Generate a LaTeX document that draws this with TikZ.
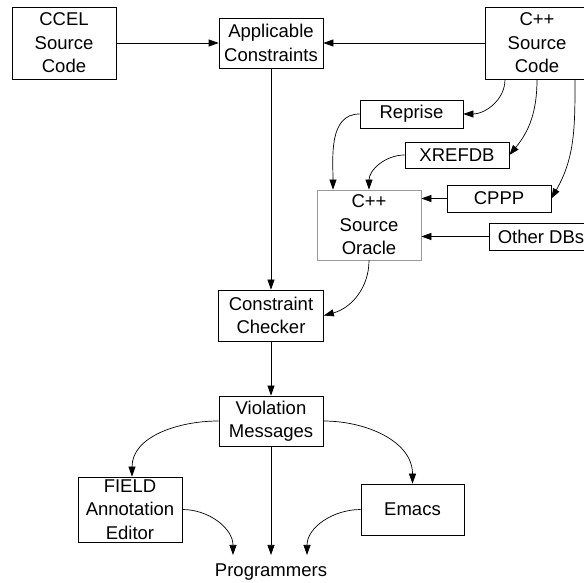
\documentclass[tikz,border=0pt]{standalone}
\usepackage{fontspec}
\setmainfont{Liberation Sans}
\usetikzlibrary{positioning,arrows.meta}

\begin{document}
\begin{tikzpicture}[x=1pt,y=1pt,
box/.style={draw,rectangle,line width=0.7pt,align=center,inner sep=0pt,
    font=\fontsize{18.5}{23.5}\selectfont},
oraclebox/.style={box,draw=black!40},
flow/.style={line width=0.7pt,-{Triangle[length=10pt,width=7pt]}}]
\useasboundingbox (0,0) rectangle (584,583);

% sources
\node (ccel) [box,minimum width=104,minimum height=72] at (64,540) {CCEL\\Source\\Code};
\node (appl) [box,minimum width=104,minimum height=50] at (271,540) {Applicable\\Constraints};
\node (cppsrc) [box,minimum width=104,minimum height=72] at (537,540) {C++\\Source\\Code};

% databases
\node (reprise) [box,minimum width=103,minimum height=28] at (411.5,469) {Reprise};
\node (xrefdb) [box,minimum width=104,minimum height=26] at (457,428) {XREFDB};
\node (cppp) [box,minimum width=104,minimum height=27] at (499,384.5) {CPPP};
\node (otherdbs) [box,minimum width=104,minimum height=27] at (541,346.5) {Other DBs};
\node (oracle) [oraclebox,minimum width=104,minimum height=70] at (369,358) {C++\\Source\\Oracle};

% checking and output
\node (checker) [box,minimum width=105,minimum height=51] at (271,267.5) {Constraint\\Checker};
\node (violation) [box,minimum width=104,minimum height=50] at (271,162) {Violation\\Messages};
\node (field) [box,minimum width=104,minimum height=65] at (130,73.5) {FIELD\\Annotation\\Editor};
\node (emacs) [box,minimum width=103,minimum height=51] at (412.5,73.5) {Emacs};
\node (programmers) [anchor=base,inner sep=0pt,font=\fontsize{18.5}{23.5}\selectfont] at (271,6) {Programmers};
\coordinate (progL) at (233,28);
\coordinate (progM) at (271,28);
\coordinate (progR) at (307,28);

\draw [flow] (ccel.east) -- (appl.west);
\draw [flow] (cppsrc.west) -- (appl.east);
\draw [flow] (appl.south) -- (checker.north);
\draw [flow] (checker.south) -- (violation.north);

\draw [flow] ([xshift=-32pt]cppsrc.south) to[out=-90,in=0] (reprise.east);
\draw [flow] (cppsrc.south) to[out=-90,in=50] (xrefdb.east);
\draw [flow] ([xshift=38pt]cppsrc.south) to[out=-90,in=60] (cppp.east);
\draw [flow] (reprise.west) to[out=180,in=90] ([xshift=-36pt]oracle.north);
\draw [flow] (xrefdb.west) to[out=180,in=90] (oracle.north);
\draw [flow] (cppp.west) -- (cppp.west -| oracle.east);
\draw [flow] (otherdbs.west) -- (otherdbs.west -| oracle.east);
\draw [flow] (oracle.south) to[out=-90,in=15] (checker.east);

\draw [flow] (violation.west) to[out=180,in=90] ([xshift=2pt]field.north);
\draw [flow] (violation.east) to[out=0,in=90] (emacs.north);
\draw [flow] (violation.south) -- (progM);
\draw [flow] (field.east) to[out=0,in=90] (progL);
\draw [flow] (emacs.west) to[out=180,in=90] (progR);
\end{tikzpicture}
\end{document}
